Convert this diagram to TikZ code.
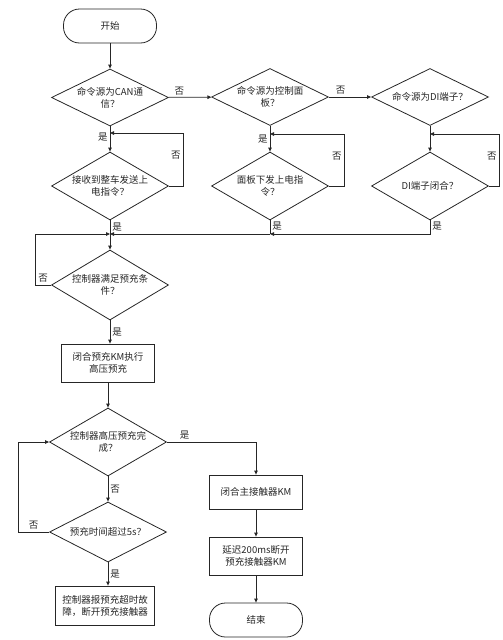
\documentclass[tikz,border=0pt]{standalone}
\usepackage{fontspec}
\setmainfont{Noto Sans CJK SC}
\usetikzlibrary{arrows.meta,shapes.geometric}

\begin{document}
\begin{tikzpicture}[
  x=1pt,y=-1pt,
  every node/.style={text=black!85},
  box/.style={draw=black!85,line width=0.8pt,align=center,font=\fontsize{9.5}{12}\selectfont,minimum width=93pt,minimum height=36pt,inner sep=0pt},
  term/.style={box,rounded corners=16pt,minimum height=34pt},
  dec/.style={draw=black!85,line width=0.8pt,diamond,shape aspect=2,inner sep=-3pt,align=center,font=\fontsize{9.5}{12}\selectfont,minimum width=117pt,minimum height=57pt},
  flow/.style={-{Triangle[length=4pt,width=3.5pt]},line width=0.8pt,draw=black!85},
  link/.style={line width=0.8pt,draw=black!85},
  note/.style={font=\fontsize{9.5}{11}\selectfont,inner sep=2pt}
]
\useasboundingbox (0,0) rectangle (503,640);
\node[term] (start) at (110,26) {开始};
\node[dec] (can) at (110,97.5) {命令源为CAN通\\信？};
\node[dec] (panel) at (270,97) {命令源为控制面\\板？};
\node[dec] (di) at (430,97) {命令源为DI端子？};
\node[dec,minimum height=68pt] (recv) at (110,186) {接收到整车发送上\\电指令？};
\node[dec,minimum height=68pt] (pcmd) at (270,186) {面板下发上电指\\令？};
\node[dec,minimum height=68pt] (diclose) at (430,186) {DI端子闭合？};
\node[dec,minimum height=70pt] (ready) at (110,285) {控制器满足预充条\\件？};
\node[box,minimum height=38pt] (prechg) at (108,363) {闭合预充KM执行\\高压预充};
\node[dec,minimum height=68pt] (done) at (108,442) {控制器高压预充完\\成？};
\node[dec,minimum height=60pt] (timeout) at (108,532) {预充时间超过5s？};
\node[box,minimum width=99pt,minimum height=39pt] (fault) at (105,605.5) {控制器报预充超时故\\障，断开预充接触器};
\node[box,minimum height=34pt] (mainkm) at (256,492) {闭合主接触器KM};
\node[box,minimum height=38pt] (delay) at (256,556) {延迟200ms断开\\预充接触器KM};
\node[term] (stop) at (256,620) {结束};
\coordinate (j1) at (110,133);
\coordinate (j2) at (270,134);
\coordinate (j3) at (430,134);
\coordinate (m1) at (110,234);
\coordinate (m2) at (270,234);
\draw[flow] (start) -- (can);
\draw[flow] (can) -- node[note,above,pos=.25]{否} (panel);
\draw[flow] (panel) -- node[note,above,pos=.28]{否} (di);
\draw[flow] (can) -- node[note,left,pos=.42]{是} (recv);
\draw[flow] (panel) -- node[note,left,pos=.5]{是} (pcmd);
\draw[flow] (di) -- (diclose);
\draw[flow] (recv.east) -- ++(14,0) |- node[note,left,pos=.29]{否} (j1);
\draw[flow] (pcmd.east) -- ++(15,0) |- node[note,left,pos=.29]{否} (j2);
\draw[flow] (diclose.east) -- ++(10,0) |- node[note,left,pos=.29]{否} (j3);
\draw[link] (recv) -- node[note,right]{是} (m1);
\draw[link] (pcmd) -- node[note,right,pos=.45]{是} (m2);
\draw[flow] (diclose.south) |- node[note,right,pos=.22]{是} (m2);
\draw[flow] (m2) -- (m1);
\draw[flow] (ready.west) -- node[note,above]{否} ++(-16,0) |- (m1);
\draw[flow] (m1) -- (ready);
\draw[flow] (ready.south) -- node[note,right]{是} (ready.south |- prechg.north);
\draw[flow] (prechg) -- (done);
\draw[flow] (done.east) -| node[note,above,pos=.1]{是} (mainkm);
\draw[flow] (done) -- node[note,right]{否} (timeout);
\draw[flow] (timeout.west) -- node[note,above]{否} ++(-31,0) |- (done.west);
\draw[flow] (timeout.south) -- node[note,right]{是} (timeout.south |- fault.north);
\draw[flow] (mainkm) -- (delay);
\draw[flow] (delay) -- (stop);
\end{tikzpicture}
\end{document}
